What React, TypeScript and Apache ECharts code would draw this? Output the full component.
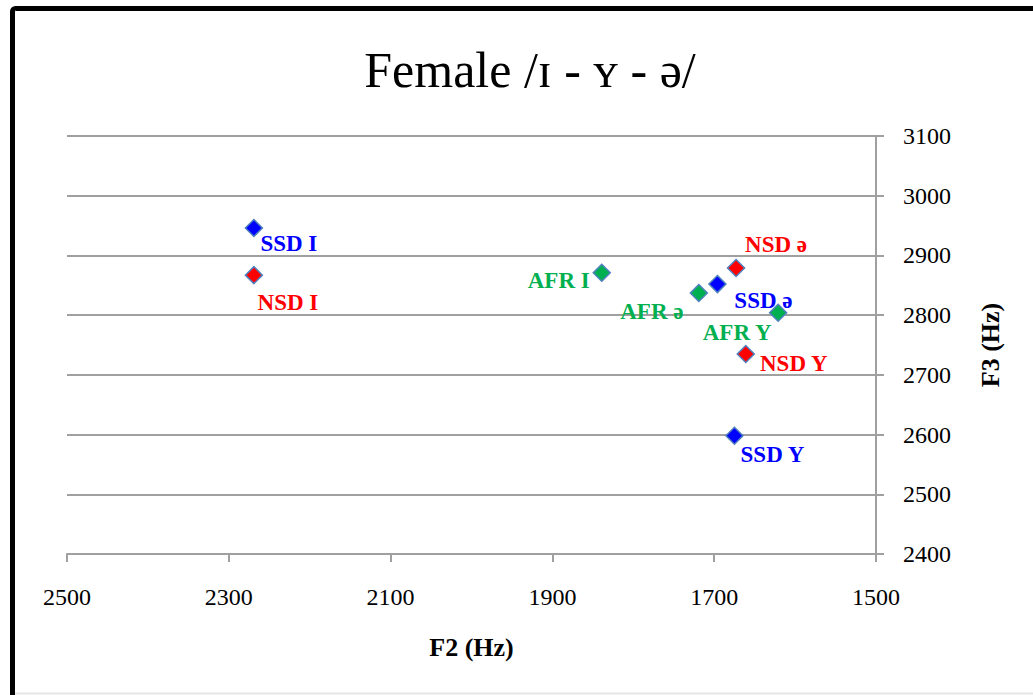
import React, { useEffect, useRef } from "react";
import * as echarts from "echarts";

const groups = ["SSD", "NSD", "AFR"];
const vowels = ["I", "Y", "ə"];
const ssdF2 = [2269, 1675, 1696];
const ssdF3 = [2946, 2598, 2852];
const nsdF2 = [2269, 1661, 1673];
const nsdF3 = [2867, 2735, 2879];
const afrF2 = [1839, 1621, 1719];
const afrF3 = [2871, 2804, 2837];
const xTicks = [2500, 2300, 2100, 1900, 1700, 1500];
const yTicks = [2400, 2500, 2600, 2700, 2800, 2900, 3000, 3100];

const groupColors: Record<string, string> = { SSD: "#0000FF", NSD: "#FF0000", AFR: "#00B050" };
// label offsets (layout only), keyed by "group vowel"
const labelOffsets: Record<string, number[]> = {
  "SSD I": [35, 16],
  "SSD Y": [38, 19],
  "SSD ə": [46, 16],
  "NSD I": [34, 27],
  "NSD Y": [48, 10],
  "NSD ə": [40, -23],
  "AFR I": [-43, 8],
  "AFR Y": [-41, 20],
  "AFR ə": [-47, 18],
};

const FONT = "'Liberation Serif', 'DejaVu Serif', serif";

export default function App() {
  const ref = useRef<HTMLDivElement>(null);
  useEffect(() => {
    if (!ref.current) return;
    const chart = echarts.init(ref.current, null, { renderer: "svg" });
    const f2s = [ssdF2, nsdF2, afrF2];
    const f3s = [ssdF3, nsdF3, afrF3];
    const series = groups.map((g, gi) => ({
      type: "scatter",
      name: g,
      symbol: "diamond",
      symbolSize: 17,
      itemStyle: { color: groupColors[g], borderColor: "#4F81BD", borderWidth: 1.5, opacity: 1 },
      data: vowels.map((v, vi) => {
        const name = g + " " + v;
        return {
          name,
          value: [f2s[gi][vi], f3s[gi][vi]],
          label: {
            show: true,
            position: "inside",
            offset: labelOffsets[name],
            formatter: name,
            color: groupColors[g],
            opacity: 1,
            fontFamily: FONT,
            fontSize: 23,
            fontWeight: "bold",
          },
        };
      }),
    }));
    chart.setOption({
      animation: false,
      backgroundColor: "#FFFFFF",
      title: {
        text: "Female /ɪ - ʏ - ə/",
        left: 525,
        top: 40,
        textAlign: "center",
        textStyle: { fontFamily: FONT, fontSize: 50, fontWeight: "normal", color: "#000" },
      },
      grid: { left: 67, right: 157, top: 136, bottom: 141 },
      xAxis: {
        type: "value",
        min: 1500,
        max: 2500,
        interval: 200,
        inverse: true,
        name: "F2 (Hz)",
        nameLocation: "middle",
        nameGap: 80,
        nameTextStyle: { fontFamily: FONT, fontSize: 26, fontWeight: "bold", color: "#000" },
        axisLine: { show: true, onZero: false, lineStyle: { color: "#A0A0A0", width: 2 } },
        axisTick: { show: true, length: 8, lineStyle: { color: "#A0A0A0", width: 2 } },
        axisLabel: {
          margin: 31,
          fontFamily: FONT,
          fontSize: 24,
          color: "#000",
          formatter: (v: number) => (xTicks.includes(v) ? String(v) : ""),
        },
        splitLine: { show: false },
      },
      yAxis: {
        type: "value",
        position: "right",
        min: 2400,
        max: 3100,
        interval: 100,
        name: "F3 (Hz)",
        nameLocation: "middle",
        nameRotate: 90,
        nameGap: 101,
        nameTextStyle: { fontFamily: FONT, fontSize: 26, fontWeight: "bold", color: "#000" },
        axisLine: { show: true, onZero: false, lineStyle: { color: "#A0A0A0", width: 2 } },
        axisTick: { show: true, length: 8, lineStyle: { color: "#A0A0A0", width: 2 } },
        axisLabel: {
          margin: 27,
          fontFamily: FONT,
          fontSize: 24,
          color: "#000",
          formatter: (v: number) => (yTicks.includes(v) ? String(v) : ""),
        },
        splitLine: { show: true, lineStyle: { color: "#A0A0A0", width: 2 } },
      },
      graphic: [
        {
          type: "rect",
          shape: { x: 12.5, y: 8.5, width: 1100, height: 800, r: 3 },
          style: { fill: "none", stroke: "#000", lineWidth: 5 },
          silent: true,
        },
        {
          type: "line",
          shape: { x1: 15, y1: 693.5, x2: 1033, y2: 693.5 },
          style: { stroke: "#E6E6E6", lineWidth: 2 },
          silent: true,
        },
      ],
      series,
    });
    return () => chart.dispose();
  }, []);
  return (
    <div
      ref={ref}
      style={{ position: "fixed", left: 0, top: 0, width: 1033, height: 695 }}
    />
  );
}
